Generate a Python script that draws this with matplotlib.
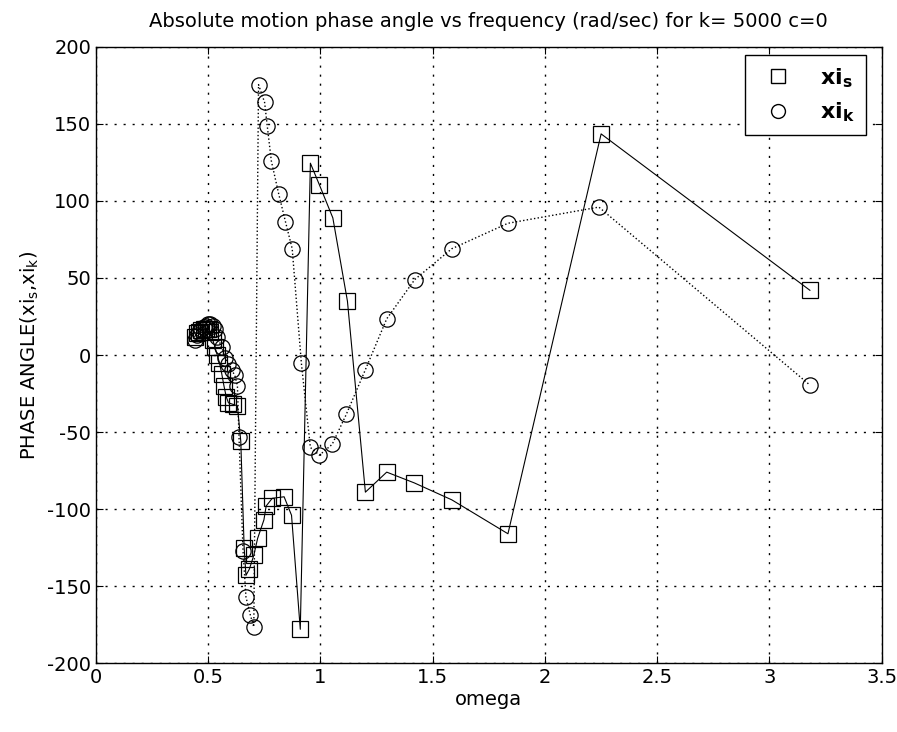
import matplotlib
matplotlib.use("Agg")
import matplotlib.pyplot as plt
from matplotlib.lines import Line2D

# frequency (rad/sec) and phase angle (deg) for each response
omega_s = [0.44, 0.45, 0.46, 0.47, 0.48, 0.49, 0.50, 0.51, 0.52, 0.53, 0.54,
           0.55, 0.56, 0.57, 0.58, 0.59, 0.61, 0.63, 0.645, 0.66, 0.668,
           0.683, 0.703, 0.72, 0.748, 0.758, 0.785, 0.838, 0.871, 0.91,
           0.955, 0.995, 1.055, 1.12, 1.2, 1.295, 1.418, 1.585, 1.835,
           2.25, 3.18]
phase_s = [12, 14, 15, 16, 17, 17, 17, 15, 10, 5, 0,
           -5, -12, -20, -27, -31, -32, -33, -56, -125, -143,
           -139, -130, -119, -107, -98, -93, -92, -104, -178,
           124.5, 110.5, 89, 35, -89, -76, -83, -94, -116,
           143.5, 42]

omega_k = [0.44, 0.45, 0.46, 0.47, 0.48, 0.49, 0.50, 0.51, 0.52, 0.53, 0.54,
           0.56, 0.575, 0.59, 0.605, 0.618, 0.63, 0.637, 0.655, 0.668,
           0.688, 0.703, 0.724, 0.751, 0.763, 0.781, 0.814, 0.844, 0.874,
           0.915, 0.955, 0.995, 1.052, 1.115, 1.2, 1.295, 1.42, 1.585,
           1.835, 2.24, 3.18]
phase_k = [10, 13, 15, 17, 18, 19, 20, 20, 19, 17, 12,
           5, -2, -6, -10, -13, -20, -53, -127, -157,
           -169, -176.5, 175.5, 164, 148.5, 126, 104.5, 86.5, 69,
           -5.5, -60, -65, -58, -38.5, -9.5, 23.5, 49, 69,
           85.5, 96, -19.5]

plt.rcParams['font.family'] = ['DejaVu Sans']
plt.rcParams['mathtext.fontset'] = 'dejavusans'
plt.rcParams['axes.unicode_minus'] = False
plt.rcParams['font.size'] = 14

fig = plt.figure(figsize=(8.97, 7.32), dpi=100)
ax = fig.add_axes([0.107, 0.094, 0.876, 0.842])

ax.plot(omega_s, phase_s, color='black', linestyle='-', linewidth=0.8,
        marker='s', markersize=11, markerfacecolor='none', markeredgewidth=0.9)
ax.plot(omega_k, phase_k, color='black', linestyle=':', linewidth=1.0,
        marker='o', markersize=11, markerfacecolor='none', markeredgewidth=0.9)

ax.set_xlim(0, 3.5)
ax.set_ylim(-200, 200)
ax.set_xticks([0, 0.5, 1, 1.5, 2, 2.5, 3, 3.5])
ax.set_xticklabels(['0', '0.5', '1', '1.5', '2', '2.5', '3', '3.5'])
ax.set_yticks(range(-200, 201, 50))
ax.grid(True, color='black', linestyle=(0, (1.5, 5)), linewidth=1.0)
ax.tick_params(direction='in', top=True, right=True, length=5, width=0.8,
               labelsize=14)
for s in ax.spines.values():
    s.set_linewidth(1.0)

ax.set_title('Absolute motion phase angle vs frequency (rad/sec) for k= 5000 c=0',
             fontsize=14, pad=14)
ax.set_xlabel('omega', fontsize=14, labelpad=2)
ax.set_ylabel(r'PHASE ANGLE(xi$_\mathrm{s}$,xi$_\mathrm{k}$)', fontsize=14,
              labelpad=4)

handles = [
    Line2D([], [], linestyle='none', marker='s', markersize=10,
           markerfacecolor='none', markeredgecolor='black'),
    Line2D([], [], linestyle='none', marker='o', markersize=10,
           markerfacecolor='none', markeredgecolor='black'),
]
leg = ax.legend(handles, [r'$\mathbf{xi}_\mathbf{s}$', r'$\mathbf{xi}_\mathbf{k}$'],
                loc='upper right', fontsize=16, fancybox=False, framealpha=1,
                edgecolor='black', borderpad=0.5, handletextpad=0.9,
                borderaxespad=0, bbox_to_anchor=(0.98, 0.987))
leg.get_frame().set_linewidth(1.0)

fig.savefig('out.png', dpi=100)
